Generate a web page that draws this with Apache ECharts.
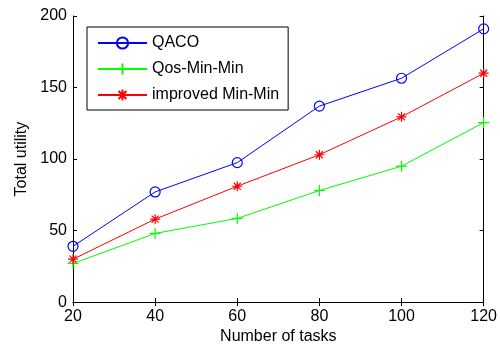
<!DOCTYPE html>
<html>
<head>
<meta charset="utf-8">
<script src="https://cdn.jsdelivr.net/npm/echarts@6/dist/echarts.min.js"></script>
<style>html,body{margin:0;padding:0;background:#fff}#c{width:500px;height:350px}</style>
</head>
<body>
<div id="c"></div>
<script>
const tasks = [20, 40, 60, 80, 100, 120];
const qaco = [39, 77, 97.5, 137, 156.5, 191];
const qosMinMin = [27, 48, 58.5, 78, 95, 125.5];
const improvedMinMin = [30, 58, 81, 103, 129.5, 160];
const seriesNames = ['QACO', 'Qos-Min-Min', 'improved Min-Min'];

const font = '"Liberation Sans", Arial, Helvetica, sans-serif';
const pairs = (ys) => tasks.map((x, i) => [x, ys[i]]);
const chart = echarts.init(document.getElementById('c'), null, {renderer: 'canvas'});
const axisLine = {show: true, lineStyle: {color: '#000', width: 1}};
const tick = {show: true, inside: true, length: 4, lineStyle: {color: '#000'}};
chart.setOption({
  backgroundColor: '#fff',
  animation: false,
  textStyle: {fontFamily: font},
  grid: {left: 73, right: 16, top: 16, bottom: 47, show: false},
  legend: {
    orient: 'vertical', left: 87, top: 27,
    padding: [8, 9, 7, 10], itemGap: 10, itemWidth: 49, itemHeight: 14,
    borderColor: '#000', borderWidth: 1, backgroundColor: '#fff',
    textStyle: {fontSize: 16, color: '#000', fontFamily: font},
    data: seriesNames
  },
  xAxis: [{
    type: 'value', min: 20, max: 120, interval: 20,
    name: 'Number of tasks', nameLocation: 'middle', nameGap: 26,
    nameTextStyle: {fontSize: 16, color: '#000', fontFamily: font},
    axisLine: axisLine, axisTick: tick, splitLine: {show: false},
    axisLabel: {fontSize: 16, color: '#000', margin: 6, fontFamily: font}
  }, {
    type: 'value', min: 20, max: 120, interval: 20, position: 'top',
    axisLine: axisLine, axisTick: tick, splitLine: {show: false},
    axisLabel: {show: false}
  }],
  yAxis: [{
    type: 'value', min: 0, max: 200, interval: 50,
    name: 'Total utility', nameLocation: 'middle', nameGap: 43, nameRotate: 90,
    nameTextStyle: {fontSize: 16, color: '#000', fontFamily: font},
    axisLine: axisLine, axisTick: tick, splitLine: {show: false},
    axisLabel: {fontSize: 16, color: '#000', margin: 6, fontFamily: font}
  }, {
    type: 'value', min: 0, max: 200, interval: 50, position: 'right',
    axisLine: axisLine, axisTick: tick, splitLine: {show: false},
    axisLabel: {show: false}
  }],
  series: [{
    name: seriesNames[0], type: 'line', data: pairs(qaco),
    symbol: 'circle', symbolSize: 10,
    lineStyle: {color: '#0000ff', width: 1},
    itemStyle: {color: 'rgba(255,255,255,0)', borderColor: '#0000ff', borderWidth: 1.2},
    color: '#0000ff'
  }, {
    name: seriesNames[1], type: 'line', data: pairs(qosMinMin),
    symbol: 'path://M5,0L5,10M0,5L10,5', symbolSize: 11,
    lineStyle: {color: '#00ff00', width: 1},
    itemStyle: {color: '#00ff00', borderColor: '#00ff00', borderWidth: 1.2},
    color: '#00ff00'
  }, {
    name: seriesNames[2], type: 'line', data: pairs(improvedMinMin),
    symbol: 'path://M5,0L5,10M0,5L10,5M1.5,1.5L8.5,8.5M8.5,1.5L1.5,8.5', symbolSize: 10,
    lineStyle: {color: '#ff0000', width: 1},
    itemStyle: {color: '#ff0000', borderColor: '#ff0000', borderWidth: 1.2},
    color: '#ff0000'
  }]
});
</script>
</body>
</html>
